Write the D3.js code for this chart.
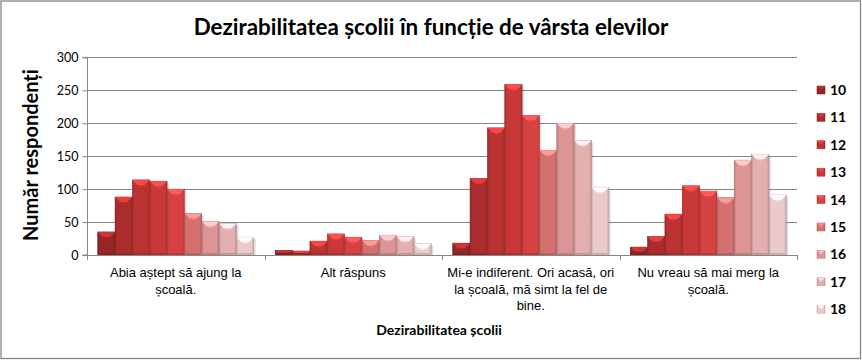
<!DOCTYPE html>
<html><head><meta charset="utf-8">
<script src="https://cdn.jsdelivr.net/npm/d3@7"></script>
<style>body{margin:0;background:#fff}svg{display:block}</style>
</head><body>
<svg id="c" width="862" height="360"></svg>
<script>
const categories = [
  ["Abia aștept să ajung la", "școală."],
  ["Alt răspuns"],
  ["Mi-e indiferent. Ori acasă, ori", "la școală, mă simt la fel de", "bine."],
  ["Nu vreau să mai merg la", "școală."]
];
const ages = ["10","11","12","13","14","15","16","17","18"];
const values = [
  [35, 7, 18, 12],
  [88, 6, 116, 28],
  [114, 21, 193, 62],
  [112, 32, 259, 105],
  [100, 27, 212, 97],
  [63, 22, 159, 87],
  [51, 30, 200, 144],
  [48, 28, 174, 153],
  [27, 17, 103, 91]
];
const colors = ["#962626","#aa2c2c","#bb3232","#c93838","#d64242","#d47070","#dc9494","#e3afaf","#ebcaca"];
const yTicks = [0,50,100,150,200,250,300];
const title = "Dezirabilitatea școlii în funcție de vârsta elevilor";
const yTitle = "Număr respondenți";
const xTitle = "Dezirabilitatea școlii";

const svg = d3.select("#c");
const W = 862, H = 360;
const L = 87, R = 797, T = 57.4, B = 255;

svg.append("rect").attr("x",1).attr("y",1).attr("width",W-2.5).attr("height",H-2.5)
  .attr("fill","#fff").attr("stroke","#868686").attr("stroke-width",1.3);

const y = d3.scaleLinear().domain([0,300]).range([B,T]);
const x0 = d3.scaleBand().domain(d3.range(categories.length)).range([L,R]).paddingInner(0).paddingOuter(0);
const x1 = d3.scaleBand().domain(d3.range(ages.length)).range([0,x0.bandwidth()]).paddingOuter(0.62).paddingInner(0);

const defs = svg.append("defs");
colors.forEach((c,i)=>{
  const g = defs.append("linearGradient").attr("id","g"+i).attr("x1","0").attr("x2","1").attr("y1","0").attr("y2","0");
  const cc = d3.color(c);
  g.append("stop").attr("offset","0").attr("stop-color",cc.darker(0.5));
  g.append("stop").attr("offset","0.12").attr("stop-color",c);
  g.append("stop").attr("offset","0.88").attr("stop-color",c);
  g.append("stop").attr("offset","1").attr("stop-color",cc.darker(0.6));
});

svg.append("g").selectAll("line").data(yTicks.slice(1)).join("line")
  .attr("x1",L).attr("x2",R).attr("y1",d=>Math.round(y(d))+0.5).attr("y2",d=>Math.round(y(d))+0.5)
  .attr("stroke","#868686").attr("stroke-width",1);

const gBars = svg.append("g");
categories.forEach((cat,ci)=>{
  ages.forEach((a,si)=>{
    const v = values[si][ci];
    const bx = x0(ci) + x1(si);
    const bw = x1.bandwidth();
    const by = y(v);
    const bh = B - by;
    const cc = d3.color(colors[si]);
    gBars.append("rect").attr("x",bx+bw).attr("y",by+2).attr("width",2).attr("height",bh-2).attr("fill","#000").attr("opacity",0.12);
    gBars.append("rect").attr("x",bx).attr("y",by).attr("width",bw).attr("height",bh)
      .attr("fill","url(#g"+si+")").attr("stroke",cc.darker(0.7)).attr("stroke-width",0.6);
    const bev = Math.min(5, bh/2);
    gBars.append("path").attr("d",`M${bx},${by}L${bx+bw},${by}L${bx+bw-bev},${by+bev}L${bx+bev},${by+bev}Z`)
      .attr("fill",cc.brighter(0.9));
    gBars.append("path").attr("d",`M${bx+bev},${by+bev}L${bx+bw-bev},${by+bev}L${bx+bw/2},${by+bev+2}Z`)
      .attr("fill",cc.brighter(0.4)).attr("opacity",0.7);
    gBars.append("rect").attr("x",bx+1).attr("y",B-2).attr("width",bw-2).attr("height",2).attr("fill",cc.darker(0.4));
  });
});

const gy = svg.append("g").attr("transform",`translate(${L+0.5},0)`)
  .call(d3.axisLeft(y).tickValues(yTicks).tickSize(5).tickPadding(4));
gy.select(".domain").attr("stroke","#868686").attr("d",`M-5,${B}H0V${T}H-5`);
gy.selectAll(".tick line").attr("stroke","#868686");
gy.selectAll(".tick text").attr("font-family","Lato, 'Open Sans', sans-serif").attr("font-size",12.5).attr("fill","#000");

svg.append("line").attr("x1",L).attr("x2",R).attr("y1",B+0.5).attr("y2",B+0.5).attr("stroke","#868686");
svg.append("g").selectAll("line").data(d3.range(categories.length+1)).join("line")
  .attr("x1",d=>Math.round(L+d*x0.bandwidth())+0.5).attr("x2",d=>Math.round(L+d*x0.bandwidth())+0.5)
  .attr("y1",B).attr("y2",B+5).attr("stroke","#868686");

categories.forEach((lines,ci)=>{
  const cx = x0(ci)+x0.bandwidth()/2;
  const t = svg.append("text").attr("text-anchor","middle").attr("font-family","'Liberation Sans', Arial, sans-serif")
    .attr("font-size",13).attr("fill","#000");
  lines.forEach((ln,li)=>{
    t.append("tspan").attr("x",cx).attr("y",277+li*16.5).text(ln);
  });
});

svg.append("text").attr("x",431).attr("y",35).attr("text-anchor","middle")
  .attr("font-family","Lato, 'Open Sans', sans-serif").attr("font-weight","bold").attr("font-size",22.4).text(title);
svg.append("text").attr("x",439).attr("y",335).attr("text-anchor","middle")
  .attr("font-family","Lato, 'Open Sans', sans-serif").attr("font-weight","bold").attr("font-size",14).text(xTitle);
svg.append("text").attr("transform","translate(38,155) rotate(-90)").attr("text-anchor","middle")
  .attr("font-family","Lato, 'Open Sans', sans-serif").attr("font-weight","bold").attr("font-size",20).text(yTitle);

const lg = svg.append("g");
ages.forEach((a,i)=>{
  const ly = 90 + i*27.4;
  const cc = d3.color(colors[i]);
  lg.append("rect").attr("x",817).attr("y",ly-4).attr("width",8).attr("height",8).attr("fill","url(#g"+i+")").attr("stroke",cc.darker(0.5)).attr("stroke-width",0.5);
  lg.append("path").attr("d",`M817,${ly-4}L825,${ly-4}L821,${ly}Z`).attr("fill",cc.brighter(0.8)).attr("opacity",0.8);
  lg.append("text").attr("x",830).attr("y",ly+5).attr("font-family","Lato, 'Open Sans', sans-serif")
    .attr("font-weight","bold").attr("font-size",14).text(a);
});
</script>
</body></html>
